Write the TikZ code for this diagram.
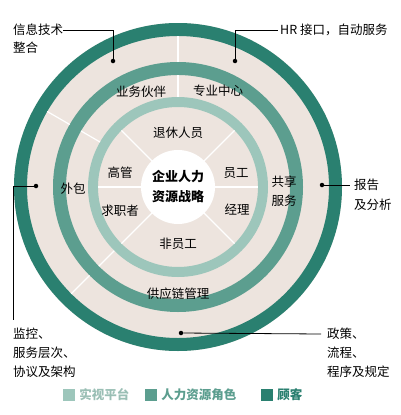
\documentclass[tikz,border=0pt]{standalone}
\usepackage{fontspec}
\setmainfont{Noto Sans CJK SC}
\usetikzlibrary{positioning,calc}
\definecolor{ringdark}{HTML}{2A8070}
\definecolor{ringmid}{HTML}{5C9E8F}
\definecolor{ringlight}{HTML}{9DC6BB}
\definecolor{diskbg}{HTML}{EDE4DE}

\begin{document}
\begin{tikzpicture}[x=1pt, y=-1pt,
    lbl/.style={font=\fontsize{12.5}{19}\selectfont, align=center, inner sep=0pt},
    txt/.style={lbl, anchor=west, align=left},
    keytxt/.style={font=\fontsize{12.5}{19}\selectfont\bfseries, anchor=west, inner sep=0pt},
    keybox/.style={minimum size=12pt, inner sep=0pt},
    divider/.style={white, line width=1.2pt},
    callout/.style={black, line width=0.8pt},
    pin/.style={circle, fill=black, inner sep=0pt, minimum size=4.5pt}]

    \useasboundingbox (0,0) rectangle (400,415);
    \fill[white] (0,0) rectangle (400,415);

    % rings
    \coordinate (c) at (178,187);
    \fill[diskbg] (c) circle (164);
    \fill[ringdark, even odd rule] (c) circle (164) (c) circle (151);
    \fill[ringmid, even odd rule] (c) circle (125) (c) circle (112);
    \fill[ringlight, even odd rule] (c) circle (90) (c) circle (80);
    \foreach \a in {90,150,-135} {
        \draw[divider] ($(c)+({-\a}:125)$) -- ($(c)+({-\a}:151)$);
        \draw[divider] ($(c)+({-\a}:90)$) -- ($(c)+({-\a}:112)$);
    }
    \foreach \a in {0,45,135,180,225,315}
        \draw[divider] (c) -- ($(c)+({-\a}:80)$);
    \fill[white] (c) circle (37);

    % labels in the rings
    \node[lbl, font=\fontsize{13}{20}\selectfont\bfseries] (core) at (178,187) {企业人力\\资源战略};
    \node[lbl] (retiree) at (178,133) {退休人员};
    \node[lbl] (exec) at (120,173) {高管};
    \node[lbl] (seeker) at (120,211) {求职者};
    \node[lbl] (staff) at (236,173) {员工};
    \node[lbl] (mgr) at (237,210) {经理};
    \node[lbl] (nonstaff) at (178,244) {非员工};
    \node[lbl] (partner) at (141,92) {业务伙伴};
    \node[lbl] (expert) at (218,91) {专业中心};
    \node[lbl] (outsrc) at (73,189) {外包};
    \node[lbl] (shared) at (284,191) {共享\\服务};
    \node[lbl] (supply) at (178,294) {供应链管理};

    % callouts
    \node[pin] (itdot) at (113,61) {};
    \node[txt] (it) at (13,30) {信息技术};
    \node[txt] (it2) at (13,48) {整合};
    \draw[callout] (itdot) |- (it.east);

    \node[pin] (hrdot) at (235,61) {};
    \node[txt] (hr) at (280,30) {HR 接口，自动服务};
    \draw[callout] (hrdot) |- ([xshift=-2pt]hr.west);

    \node[pin] (repdot) at (322,185) {};
    \node[txt] (rep) at (354,185) {报告};
    \node[txt] (rep2) at (354,205) {及分析};
    \draw[callout] (repdot) -- ([xshift=-4pt]rep.west);

    \node[pin] (mondot) at (36,186) {};
    \node[txt] (mon) at (13,334) {监控、};
    \node[txt] (mon2) at (13,353) {服务层次、};
    \node[txt] (mon3) at (13,372) {协议及架构};
    \draw[callout] (mondot) -| ([yshift=8pt]mon.north west);

    \node[pin] (poldot) at (181,333) {};
    \node[txt] (pol) at (327,334) {政策、};
    \node[txt] (pol2) at (327,353) {流程、};
    \node[txt] (pol3) at (327,372) {程序及规定};
    \draw[callout] (poldot) -- ([xshift=-6pt]pol.west);

    % key
    \node[keybox, fill=ringlight] (k1) at (69,395) {};
    \node[keytxt, text=ringlight!90!gray, right=4pt of k1] (k1t) {实视平台};
    \node[keybox, fill=ringmid] (k2) at (151,395) {};
    \node[keytxt, text=ringmid, right=4pt of k2] (k2t) {人力资源角色};
    \node[keybox, fill=ringdark] (k3) at (267,395) {};
    \node[keytxt, text=ringdark, right=4pt of k3] (k3t) {顾客};
\end{tikzpicture}
\end{document}
